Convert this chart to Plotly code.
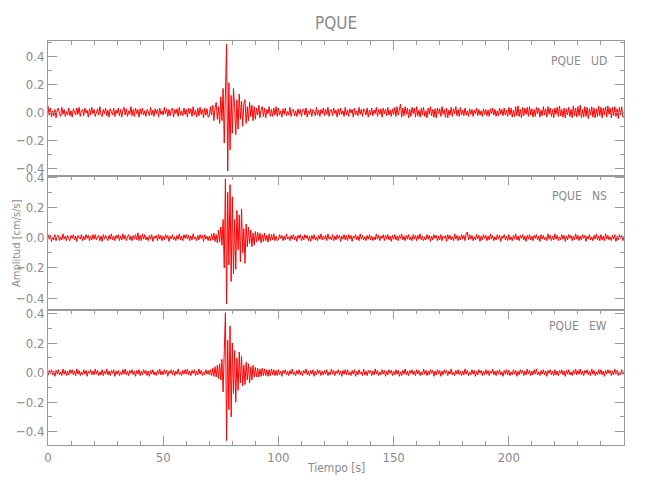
import numpy as np
import plotly.graph_objects as go

# sampling interval of the records (s)
dt = 0.5

ud = [
    0.045, -0.02, 0.03, -0.035, 0.01, -0.025, 0.02, -0.04, 0.015, 0.03, -0.01, -0.03, 0.035, -0.015, 0.02, -0.03, 0.005, -0.02, 0.03, -0.025,
    0.01, -0.035, 0.025, 0.005, -0.02, 0.03, -0.015, 0.035, -0.03, 0.01, 0.02, -0.025, 0.03, -0.005, 0.015, -0.035, 0.025, -0.02, 0.035, -0.01,
    0.02, -0.03, 0.01, 0.025, -0.02, 0.04, -0.015, -0.03, 0.02, -0.01, 0.03, -0.025, 0.015, -0.035, 0.025, 0.005, -0.02, 0.03, -0.03, 0.015,
    -0.01, 0.03, -0.025, 0.02, -0.035, 0.015, 0.035, -0.02, 0.025, -0.03, 0.01, -0.015, 0.04, -0.025, 0.02, -0.03, 0.03, -0.01, 0.02, -0.035,
    0.025, -0.015, 0.03, -0.02, 0.01, -0.03, 0.02, 0.005, -0.025, 0.035, -0.02, 0.015, -0.03, 0.025, -0.01, 0.02, -0.035, 0.03, -0.015, 0.01,
    -0.02, 0.035, -0.01, 0.025, -0.03, 0.02, -0.025, 0.015, 0.03, -0.035, 0.02, -0.01, 0.025, -0.03, 0.035, -0.02, 0.01, -0.025, 0.03, -0.015,
    0.02, -0.035, 0.03, -0.01, 0.025, -0.03, 0.04, -0.02, 0.015, -0.035, 0.03, -0.025, 0.035, -0.015, 0.02, -0.04, 0.03, -0.02, 0.025, -0.035,
    -0.03, 0.04, -0.02, 0.05, -0.06, 0.03, 0.07, -0.05, 0.04, -0.08, 0.11, -0.06, 0.17, -0.22, 0.25, 0.486, -0.419, 0.21, -0.27, 0.12,
    -0.15, 0.17, 0.04, -0.16, 0.09, -0.12, 0.13, -0.05, 0.08, -0.10, 0.06, 0.09, -0.08, 0.04, -0.06, 0.07, -0.03, 0.05, -0.06, 0.04,
    -0.05, 0.03, -0.02, 0.05, -0.04, 0.02, 0.04, -0.03, 0.03, -0.04, 0.02, -0.01, 0.04, -0.03, 0.02, -0.03, 0.03, -0.02, 0.04, -0.03,
    0.03, -0.02, 0.01, -0.035, 0.025, -0.015, 0.03, -0.025, 0.005, -0.02, 0.035, -0.03, 0.015, 0.02, -0.025, 0.01, -0.03, 0.025, -0.015, 0.02,
    -0.03, 0.015, 0.025, -0.02, 0.03, -0.035, 0.01, -0.015, 0.025, -0.03, 0.02, 0.005, -0.025, 0.035, -0.02, 0.015, -0.03, 0.02, -0.01, 0.03,
    -0.025, 0.02, -0.015, 0.035, -0.03, 0.01, 0.02, -0.025, 0.03, -0.01, 0.015, -0.035, 0.025, -0.02, 0.03, -0.015, 0.01, -0.03, 0.035, -0.02,
    0.015, -0.03, 0.025, -0.005, 0.02, -0.035, 0.03, -0.02, 0.01, -0.025, 0.035, -0.015, 0.02, -0.03, 0.025, 0.01, -0.02, 0.03, -0.035, 0.015,
    -0.02, 0.03, -0.025, 0.015, -0.01, 0.035, -0.03, 0.02, -0.015, 0.025, -0.035, 0.03, -0.01, 0.02, -0.025, 0.035, -0.02, 0.015, -0.03, 0.025,
    -0.015, 0.035, -0.03, 0.04, -0.02, 0.025, 0.057, -0.035, 0.03, -0.025, 0.04, -0.015, 0.03, -0.04, 0.02, -0.03, 0.035, -0.01, 0.03, -0.035,
    0.04, -0.025, 0.015, -0.035, 0.03, -0.02, 0.035, -0.03, 0.01, -0.04, 0.03, -0.015, 0.04, -0.025, 0.02, -0.035, 0.025, -0.04, 0.03, -0.01,
    0.025, -0.03, 0.04, -0.015, 0.02, -0.035, 0.03, -0.04, 0.015, -0.02, 0.035, -0.03, 0.025, -0.01, 0.04, -0.025, 0.02, -0.03, 0.035, -0.02,
    0.015, -0.025, 0.03, -0.02, 0.01, -0.03, 0.025, -0.015, 0.02, -0.03, 0.015, -0.01, 0.03, -0.025, 0.02, -0.02, 0.01, -0.03, 0.025, -0.015,
    0.02, -0.025, 0.015, -0.03, 0.025, -0.01, 0.03, -0.02, 0.02, -0.03, 0.01, -0.025, 0.03, -0.015, 0.02, -0.025, 0.03, -0.02, 0.015, -0.03,
    0.035, -0.02, 0.03, -0.035, 0.015, -0.03, 0.04, -0.025, 0.045, -0.03, 0.02, -0.04, 0.035, -0.025, 0.03, -0.015, 0.035, -0.03, 0.04, -0.02,
    0.025, -0.035, 0.02, -0.03, 0.035, -0.01, 0.03, -0.035, 0.015, -0.025, 0.04, -0.02, 0.025, -0.035, 0.04, -0.015, 0.03, -0.03, 0.02, -0.04,
    0.03, -0.015, 0.035, -0.03, 0.045, -0.025, 0.02, -0.035, 0.03, -0.04, 0.025, -0.02, 0.035, -0.03, 0.02, -0.04, 0.045, -0.025, 0.03, -0.035,
    0.04, -0.025, 0.05, -0.04, 0.02, -0.035, 0.04, -0.03, 0.035, -0.045, 0.025, -0.02, 0.04, -0.035, 0.03, -0.04, 0.025, -0.03, 0.045, -0.025,
    0.035, -0.04, 0.03, -0.02, 0.04, -0.035, 0.045, -0.015, 0.03, -0.04, 0.035, -0.025, 0.04, -0.03, 0.025, -0.045, 0.035, -0.02, 0.04, -0.035, -0.03,
]

ns = [
    0.02, -0.01, 0.015, -0.025, 0.005, -0.015, 0.02, -0.02, 0.01, 0.015, -0.02, 0.005, -0.015, 0.025, -0.01, 0.01, -0.02, 0.015, -0.005, -0.02,
    0.015, -0.005, 0.02, -0.015, 0.01, -0.025, 0.015, 0.005, -0.01, 0.02, -0.02, 0.01, -0.015, 0.02, -0.005, 0.015, -0.02, 0.01, -0.015, 0.02,
    -0.01, 0.02, -0.015, 0.005, 0.015, -0.02, 0.01, -0.025, 0.02, -0.01, 0.015, -0.005, -0.02, 0.015, -0.01, 0.025, -0.015, 0.01, -0.02, 0.015,
    -0.005, 0.02, -0.02, 0.01, -0.015, 0.025, -0.01, 0.015, -0.02, 0.005, 0.02, -0.015, 0.01, -0.02, 0.015, -0.01, 0.02, -0.015, 0.032, -0.02,
    0.015, -0.02, 0.025, -0.01, 0.02, -0.015, 0.005, -0.02, 0.015, -0.01, 0.02, -0.025, 0.01, -0.005, 0.015, -0.02, 0.02, -0.01, 0.015, -0.02,
    0.01, -0.015, 0.02, -0.005, 0.015, -0.025, 0.01, -0.01, 0.02, -0.015, 0.005, -0.02, 0.015, -0.01, 0.025, -0.015, 0.01, -0.02, 0.02, -0.005,
    0.02, -0.01, 0.015, -0.02, 0.01, -0.015, 0.025, -0.01, 0.005, -0.02, 0.015, -0.015, 0.02, -0.005, 0.015, -0.025, 0.02, -0.01, 0.01, -0.02,
    0.01, -0.02, 0.025, -0.015, 0.03, -0.025, 0.02, -0.035, 0.05, -0.03, 0.07, -0.05, 0.12, -0.20, 0.389, -0.44, 0.30, -0.18, 0.35, -0.29,
    0.27, -0.24, 0.12, -0.21, 0.18, -0.08, 0.15, -0.16, 0.19, -0.10, 0.06, -0.17, 0.09, -0.06, 0.07, -0.04, 0.05, -0.06, 0.03, -0.05,
    0.04, -0.03, 0.035, -0.02, 0.03, -0.035, 0.02, -0.025, 0.03, -0.02, 0.015, -0.03, 0.025, -0.02, 0.02, -0.015, 0.025, -0.02, 0.01, -0.02,
    -0.015, 0.02, -0.005, 0.015, -0.02, 0.01, -0.015, 0.025, -0.01, 0.005, -0.02, 0.015, -0.01, 0.02, -0.015, 0.01, -0.025, 0.015, -0.005, 0.02,
    -0.02, 0.01, -0.015, 0.02, -0.005, 0.015, -0.02, 0.01, -0.025, 0.015, -0.01, 0.02, -0.015, 0.005, -0.02, 0.015, -0.01, 0.025, -0.015, 0.01,
    -0.01, 0.015, -0.02, 0.025, -0.01, 0.005, -0.015, 0.02, -0.02, 0.01, -0.015, 0.02, -0.005, 0.015, -0.025, 0.01, -0.01, 0.02, -0.015, 0.015,
    -0.02, 0.02, -0.01, 0.015, -0.025, 0.01, -0.005, 0.02, -0.015, 0.01, -0.02, 0.025, -0.01, 0.015, -0.015, 0.005, -0.02, 0.015, -0.01, 0.02,
    -0.015, 0.01, -0.02, 0.005, -0.015, 0.025, -0.01, 0.015, -0.02, 0.01, -0.005, 0.02, -0.02, 0.015, -0.01, 0.02, -0.015, 0.01, -0.025, 0.015,
    -0.01, 0.02, -0.015, 0.01, -0.02, 0.015, -0.005, 0.025, -0.015, 0.01, -0.02, 0.015, -0.01, 0.02, -0.015, 0.005, -0.02, 0.02, -0.01, 0.015,
    -0.02, 0.015, -0.01, 0.025, -0.015, 0.01, -0.02, 0.005, -0.015, 0.02, -0.01, 0.015, -0.025, 0.01, -0.015, 0.02, -0.005, 0.015, -0.02, 0.01,
    -0.015, 0.02, -0.02, 0.01, -0.005, 0.015, -0.025, 0.02, -0.01, 0.015, -0.015, 0.005, -0.02, 0.025, -0.01, 0.015, -0.02, 0.01, -0.015, 0.02,
    -0.01, 0.015, -0.02, 0.025, 0.037, -0.015, 0.02, -0.01, 0.015, -0.02, 0.005, -0.015, 0.02, -0.01, 0.015, -0.025, 0.01, -0.015, 0.02, -0.005,
    0.015, -0.02, 0.01, -0.015, 0.025, -0.01, 0.015, -0.02, 0.005, -0.015, 0.02, -0.01, 0.015, -0.025, 0.01, -0.005, 0.02, -0.015, 0.01, -0.02,
    0.02, -0.015, 0.005, -0.02, 0.015, -0.01, 0.025, -0.015, 0.01, -0.02, 0.015, -0.005, 0.02, -0.015, 0.01, -0.025, 0.015, -0.01, 0.02, -0.015,
    0.01, -0.02, 0.015, -0.005, 0.02, -0.015, 0.01, -0.025, 0.02, -0.01, 0.015, -0.015, 0.005, -0.02, 0.025, -0.01, 0.015, -0.02, 0.01, -0.015,
    0.025, -0.01, 0.015, -0.02, 0.005, -0.015, 0.02, -0.01, 0.015, -0.025, 0.01, -0.015, 0.02, -0.005, 0.015, -0.02, 0.01, -0.015, 0.025, -0.01,
    0.015, -0.02, 0.01, -0.015, 0.02, -0.005, 0.015, -0.025, 0.01, -0.01, 0.02, -0.015, 0.005, -0.02, 0.015, -0.01, 0.025, -0.015, 0.01, -0.02,
    0.02, -0.015, 0.01, -0.02, 0.025, -0.01, 0.015, -0.015, 0.005, -0.02, 0.015, -0.01, 0.02, -0.025, 0.01, -0.015, 0.02, -0.005, 0.015, -0.02, 0.01,
]

ew = [
    -0.02, 0.015, -0.005, 0.02, -0.015, 0.01, -0.025, 0.015, -0.01, 0.02, -0.015, 0.005, -0.02, 0.025, -0.01, 0.015, -0.02, 0.01, -0.015, 0.02,
    -0.005, 0.02, -0.015, 0.01, -0.02, 0.025, -0.01, 0.015, -0.02, 0.005, -0.015, 0.02, -0.01, 0.015, -0.025, 0.01, -0.005, 0.02, -0.015, 0.01,
    -0.015, 0.025, -0.01, 0.015, -0.02, 0.005, -0.015, 0.02, -0.02, 0.01, -0.01, 0.025, -0.015, 0.01, -0.02, 0.015, -0.005, 0.02, -0.025, 0.01,
    -0.01, 0.015, -0.02, 0.005, -0.015, 0.02, -0.01, 0.025, -0.015, 0.01, -0.02, 0.015, -0.005, 0.02, -0.015, 0.01, -0.025, 0.015, -0.01, 0.02,
    -0.02, 0.01, -0.015, 0.02, -0.005, 0.015, -0.02, 0.01, -0.025, 0.015, -0.01, 0.02, -0.015, 0.005, -0.02, 0.015, -0.01, 0.025, -0.015, 0.01,
    -0.015, 0.02, -0.01, 0.015, -0.025, 0.01, -0.005, 0.02, -0.015, 0.015, -0.02, 0.01, -0.01, 0.025, -0.015, 0.005, -0.02, 0.015, -0.01, 0.02,
    -0.01, 0.025, -0.015, 0.01, -0.02, 0.015, -0.005, 0.02, -0.02, 0.01, -0.015, 0.025, -0.01, 0.015, -0.02, 0.005, -0.015, 0.02, -0.01, 0.015,
    -0.015, 0.02, -0.02, 0.03, -0.025, 0.04, -0.03, 0.05, -0.04, 0.06, -0.05, 0.09, -0.13, 0.18, 0.406, -0.46, 0.22, -0.25, 0.315, -0.30,
    0.20, -0.14, 0.15, -0.20, 0.10, -0.12, 0.14, -0.07, 0.11, -0.09, 0.05, -0.08, 0.07, -0.05, 0.06, -0.07, 0.04, -0.05, 0.05, -0.03,
    0.035, -0.03, 0.03, -0.03, 0.025, -0.025, 0.03, -0.02, 0.025, -0.02, 0.02, -0.025, 0.02, -0.02, 0.025, -0.015, 0.02, -0.02, 0.015, -0.02,
    0.02, -0.015, 0.01, -0.025, 0.015, -0.005, 0.02, -0.015, 0.01, -0.02, 0.015, -0.01, 0.025, -0.015, 0.005, -0.02, 0.015, -0.01, 0.02, -0.015,
    0.01, -0.02, 0.015, -0.005, 0.025, -0.015, 0.01, -0.02, 0.015, -0.01, 0.02, -0.025, 0.01, -0.015, 0.02, -0.005, 0.015, -0.02, 0.01, -0.015,
    0.015, -0.01, 0.02, -0.02, 0.005, -0.015, 0.025, -0.01, 0.015, -0.02, 0.01, -0.005, 0.02, -0.015, 0.01, -0.025, 0.015, -0.01, 0.02, -0.015,
    0.02, -0.015, 0.005, -0.02, 0.015, -0.01, 0.02, -0.025, 0.01, -0.015, 0.02, -0.01, 0.005, -0.02, 0.025, -0.015, 0.01, -0.02, 0.015, -0.005,
    0.015, -0.02, 0.01, -0.015, 0.025, -0.01, 0.015, -0.02, 0.005, -0.015, 0.02, -0.01, 0.015, -0.025, 0.01, -0.015, 0.02, -0.005, 0.015, -0.02,
    0.01, -0.015, 0.02, -0.01, 0.015, -0.025, 0.005, -0.02, 0.015, -0.01, 0.025, -0.015, 0.01, -0.02, 0.015, -0.005, 0.02, -0.015, 0.01, -0.02,
    0.02, -0.01, 0.015, -0.02, 0.005, -0.015, 0.025, -0.01, 0.015, -0.02, 0.01, -0.015, 0.02, -0.005, 0.015, -0.025, 0.01, -0.015, 0.02, -0.01,
    0.015, -0.025, 0.01, -0.015, 0.02, -0.005, 0.015, -0.02, 0.01, -0.01, 0.025, -0.015, 0.005, -0.02, 0.015, -0.01, 0.02, -0.015, 0.01, -0.02,
    0.01, -0.015, 0.025, -0.01, 0.015, -0.02, 0.005, -0.015, 0.02, -0.01, 0.015, -0.025, 0.01, -0.015, 0.02, -0.005, 0.015, -0.02, 0.01, -0.015,
    0.02, -0.01, 0.015, -0.02, 0.01, -0.005, 0.025, -0.015, 0.01, -0.02, 0.015, -0.01, 0.02, -0.015, 0.005, -0.025, 0.015, -0.01, 0.02, -0.015,
    0.015, -0.02, 0.005, -0.015, 0.02, -0.01, 0.015, -0.025, 0.01, -0.015, 0.02, -0.005, 0.015, -0.02, 0.01, -0.015, 0.025, -0.01, 0.015, -0.02,
    0.01, -0.015, 0.02, -0.01, 0.025, -0.015, 0.005, -0.02, 0.015, -0.01, 0.02, -0.015, 0.01, -0.025, 0.015, -0.005, 0.02, -0.015, 0.01, -0.02,
    0.02, -0.015, 0.01, -0.02, 0.015, -0.005, 0.02, -0.015, 0.01, -0.025, 0.015, -0.01, 0.02, -0.015, 0.005, -0.02, 0.015, -0.01, 0.025, -0.015,
    0.015, -0.01, 0.025, -0.015, 0.01, -0.02, 0.015, -0.005, 0.02, -0.015, 0.01, -0.02, 0.025, -0.01, 0.015, -0.02, 0.005, -0.015, 0.02, -0.01,
    0.02, -0.015, 0.01, -0.025, 0.015, -0.01, 0.02, -0.005, 0.015, -0.02, 0.01, -0.015, 0.025, -0.01, 0.015, -0.02, 0.005, -0.015, 0.02, -0.01, 0.0,
]

components = ["UD", "NS", "EW"]
station = "PQUE"
xticks = [0, 50, 100, 150, 200]
yticks = [-0.4, -0.2, 0.0, 0.2, 0.4]
yranges = [[-0.453, 0.509], [-0.481, 0.41], [-0.49, 0.422]]

series = [ud, ns, ew]
t = np.arange(len(ud)) * dt

GREY = "#8a8a8a"
LINE = "#9a9a9a"
FONT = "Liberation Sans Narrow, DejaVu Sans Condensed, Roboto, sans-serif"

fig = go.Figure()
domains = [[2/3, 1.0], [1/3, 2/3], [0.0, 1/3]]
for i, vals in enumerate(series):
    n = "" if i == 0 else str(i + 1)
    fig.add_trace(go.Scatter(x=t, y=vals, mode="lines", xaxis="x" + n, yaxis="y" + n,
                             line=dict(color="#ff0000", width=1), showlegend=False,
                             hoverinfo="skip"))
    bottom = (i == 2)
    fig.layout["xaxis" + n] = dict(
        domain=[0, 1], anchor="y" + n, range=[0, 250], automargin=False,
        side="bottom" if bottom else "top",
        tickvals=xticks, ticks="inside", ticklen=9, tickcolor=LINE, tickwidth=1,
        minor=dict(dtick=10, ticks="inside", ticklen=4, tickcolor=LINE),
        showticklabels=bottom, showline=True, linecolor=LINE, linewidth=1,
        mirror="ticks" if bottom else True, showgrid=False, zeroline=False,
        tickfont=dict(size=13, color=GREY, family=FONT),
    )
    fig.layout["yaxis" + n] = dict(
        domain=domains[i], anchor="x" + n, range=yranges[i], automargin=False,
        tickvals=yticks, tickformat=".1f", ticks="inside", ticklen=9,
        tickcolor=LINE, minor=dict(dtick=0.1, ticks="inside", ticklen=4, tickcolor=LINE),
        showline=True, linecolor=LINE, linewidth=1, mirror="ticks",
        showgrid=False, zeroline=False,
        tickfont=dict(size=13, color=GREY, family=FONT),
    )

label_y = [0.9505, 0.616, 0.2946]
annotations = []
for comp, yy in zip(components, label_y):
    annotations.append(dict(text=station + "\u00a0\u00a0\u00a0" + comp, xref="paper", yref="paper",
                            x=0.974, y=yy, xanchor="right", yanchor="middle", showarrow=False,
                            font=dict(size=12, color=GREY, family=FONT)))
annotations.append(dict(text="Amplitud [cm/s/s]", xref="paper", yref="paper", x=-0.0555, y=0.5,
                        textangle=-90, xanchor="center", yanchor="middle", showarrow=False,
                        font=dict(size=11, color=GREY, family=FONT)))
annotations.append(dict(text="Tiempo [s]", xref="paper", yref="paper", x=0.5, y=-0.057,
                        xanchor="center", yanchor="middle", showarrow=False,
                        font=dict(size=12, color=GREY, family=FONT)))

# page body adds an 8px margin, so the figure is sized to fit the 650x500 window
fig.update_layout(
    width=642, height=492,
    margin=dict(l=40, r=26, t=33, b=55),
    paper_bgcolor="white", plot_bgcolor="white",
    title=dict(text=station, xref="paper", x=0.5, xanchor="center", y=0.9695, yanchor="middle",
               font=dict(size=17, color=GREY, family=FONT)),
    annotations=annotations,
)

fig.write_html("out.html")
